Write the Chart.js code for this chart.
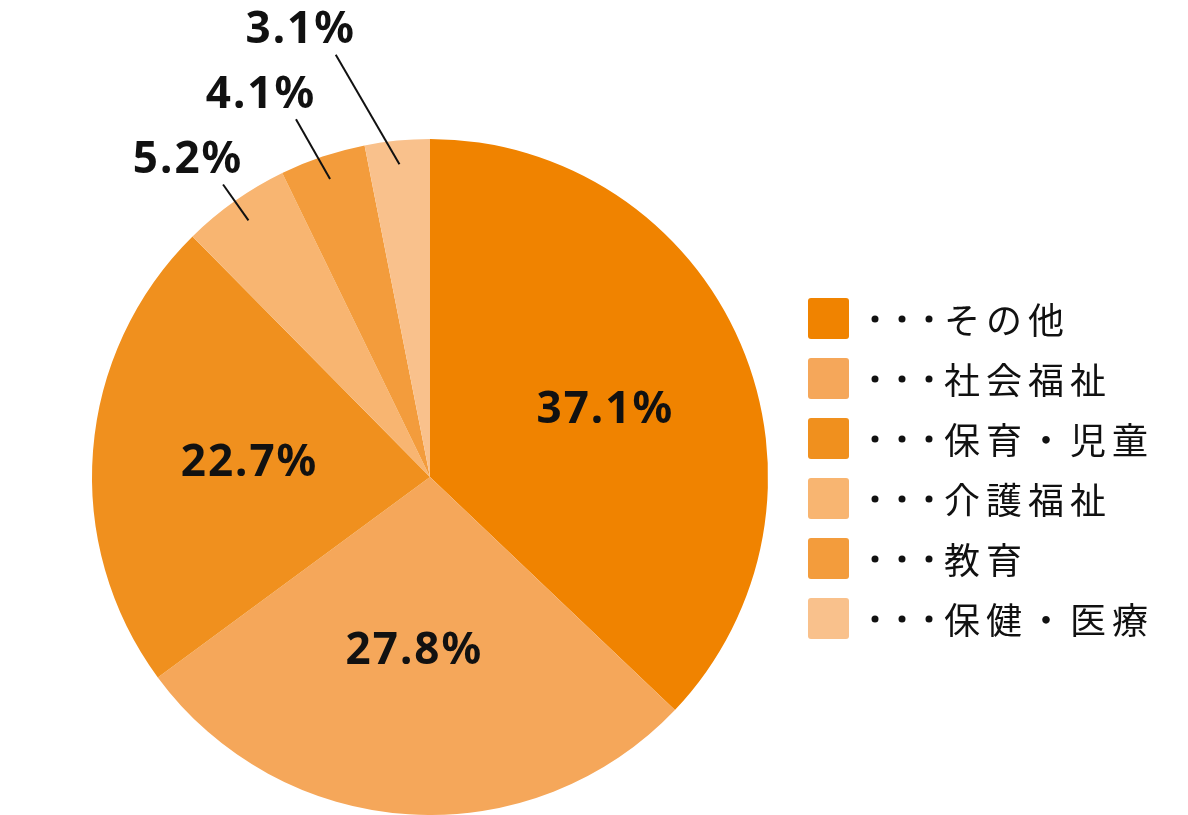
<!DOCTYPE html>
<html>
<head>
<meta charset="utf-8">
<script src="https://cdn.jsdelivr.net/npm/chart.js@4.4.0/dist/chart.umd.min.js"></script>
<style>
  html, body { margin: 0; padding: 0; background: #fff; }
  #wrap { width: 1188px; height: 815px; position: relative; }
</style>
</head>
<body>
<div id="wrap"><canvas id="pie" width="1188" height="815"></canvas></div>
<script>
// データ
const categories = ['その他', '社会福祉', '保育・児童', '介護福祉', '教育', '保健・医療'];
const shares = [37.1, 27.8, 22.7, 5.2, 4.1, 3.1];
const colors = ['#F08300', '#F5A75A', '#F0901E', '#F8B571', '#F39C3C', '#F9C18C'];

// 外側ラベル（引き出し線）のスタイル
const outerStyle = {
    3: { len: 1.06, rot: 0 },
    4: { len: 1.13, rot: -2 },
    5: { len: 1.28, rot: -7 }
};

const labelPlugin = {
    id: 'labels',
    afterDraw(chart) {
        const ctx = chart.ctx;
        const meta = chart.getDatasetMeta(0);
        ctx.save();
        ctx.fillStyle = '#111';
        ctx.textAlign = 'center';
        ctx.textBaseline = 'middle';
        ctx.font = 'bold 44px "Noto Sans", sans-serif';
        ctx.letterSpacing = '2px';
        meta.data.forEach((arc, i) => {
            const txt = shares[i].toFixed(1) + '%';
            const mid = (arc.startAngle + arc.endAngle) / 2;
            const R = arc.outerRadius;
            if (!outerStyle[i]) {
                const p = arc.tooltipPosition();
                ctx.fillText(txt, p.x + (i === 0 ? 20 : i === 2 ? -12 : -5), p.y + (i === 1 ? 6 : 0));
                return;
            }
            const s = outerStyle[i];
            const a2 = mid + s.rot * Math.PI / 180;
            const x1 = arc.x + Math.cos(mid) * R * 0.93;
            const y1 = arc.y + Math.sin(mid) * R * 0.93;
            const x2 = arc.x + Math.cos(a2) * R * s.len;
            const y2 = arc.y + Math.sin(a2) * R * s.len;
            ctx.strokeStyle = '#111';
            ctx.lineWidth = 2;
            ctx.beginPath();
            ctx.moveTo(x1, y1);
            ctx.lineTo(x2, y2);
            ctx.stroke();
            ctx.fillText(txt, x2 - 35, y2 - 24);
        });
        // 凡例
        ctx.textAlign = 'left';
        ctx.font = '36px "Noto Sans CJK JP", sans-serif';
        ctx.letterSpacing = '6px';
        categories.forEach((c, i) => {
            const y = 298 + i * 60;
            ctx.fillStyle = colors[i];
            ctx.beginPath();
            ctx.roundRect(808, y, 41, 41, 3);
            ctx.fill();
            ctx.fillStyle = '#111';
            for (let k = 0; k < 3; k++) {
                ctx.beginPath();
                ctx.arc(875 + k * 27, y + 21, 3.5, 0, Math.PI * 2);
                ctx.fill();
            }
            ctx.fillText(c, 944, y + 22);
        });
        ctx.restore();
    }
};

new Chart(document.getElementById('pie'), {
    type: 'pie',
    data: {
        labels: categories,
        datasets: [{
            data: shares,
            backgroundColor: colors,
            borderWidth: 0
        }]
    },
    options: {
        responsive: false,
        animation: false,
        layout: { padding: { top: 139, bottom: 0, left: 92, right: 420 } },
        plugins: { legend: { display: false }, tooltip: { enabled: false } }
    },
    plugins: [labelPlugin]
});
</script>
</body>
</html>
